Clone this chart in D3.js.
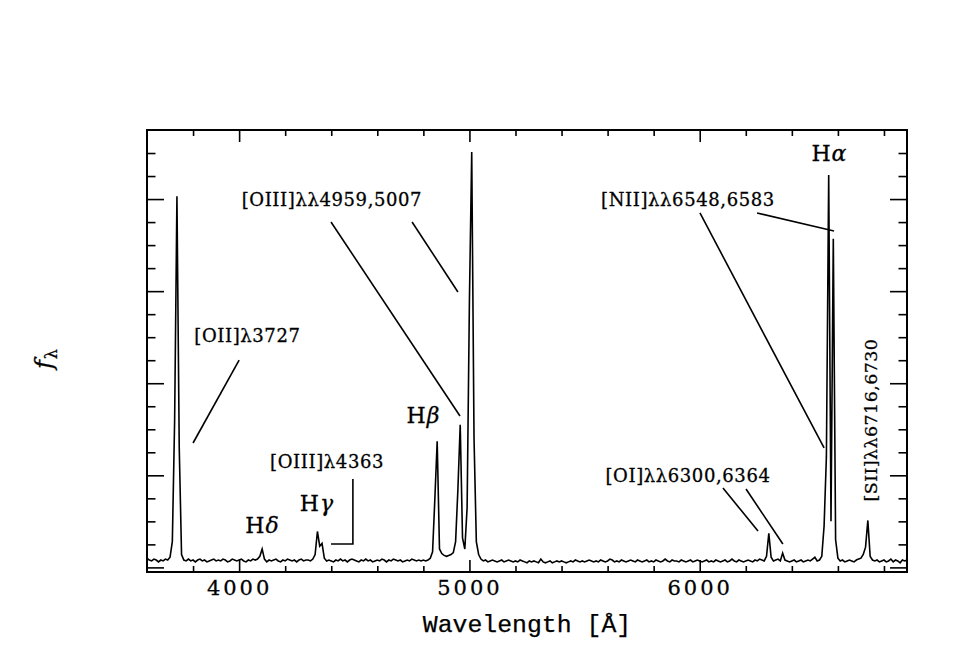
<!DOCTYPE html>
<html><head><meta charset="utf-8">
<script src="https://cdn.jsdelivr.net/npm/d3@7"></script>
<style>body{margin:0;background:#fff}</style></head>
<body><svg id="chart" width="975" height="650"></svg>
<script>
// ---- data ----
const waveStart = 3600, waveStep = 10;
const flux = [
  0.10,0.08,0.07,0.09,0.08,0.06,0.08,0.07,0.09,0.08, // 3600
  0.11,0.28,1.60,4.03,1.30,0.14,0.08,0.07,0.09,0.07, // 3700
  0.08,0.06,0.08,0.09,0.07,0.08,0.06,0.07,0.08,0.09, // 3800
  0.07,0.08,0.07,0.09,0.08,0.06,0.07,0.09,0.08,0.07, // 3900
  0.08,0.09,0.07,0.06,0.08,0.07,0.09,0.08,0.09,0.12, // 4000
  0.20,0.09,0.06,0.08,0.07,0.08,0.09,0.07,0.06,0.08, // 4100
  0.07,0.09,0.08,0.07,0.08,0.06,0.08,0.09,0.07,0.08, // 4200
  0.08,0.07,0.09,0.14,0.39,0.23,0.26,0.10,0.07,0.08, // 4300
  0.07,0.06,0.08,0.07,0.09,0.07,0.08,0.06,0.08,0.09, // 4400
  0.08,0.07,0.06,0.08,0.07,0.09,0.07,0.08,0.06,0.07, // 4500
  0.08,0.07,0.09,0.08,0.06,0.08,0.07,0.09,0.08,0.07, // 4600
  0.08,0.06,0.07,0.08,0.07,0.09,0.08,0.07,0.08,0.07, // 4700
  0.08,0.07,0.08,0.10,0.17,0.75,1.37,0.20,0.15,0.13, // 4800
  0.12,0.13,0.14,0.16,0.28,0.85,1.55,0.32,0.20,0.65, // 4900
  2.90,4.51,1.40,0.28,0.14,0.09,0.07,0.08,0.06,0.07, // 5000
  0.08,0.07,0.06,0.07,0.08,0.06,0.07,0.08,0.07,0.06, // 5100
  0.07,0.06,0.08,0.07,0.06,0.05,0.07,0.06,0.07,0.06, // 5200
  0.05,0.09,0.06,0.05,0.06,0.07,0.05,0.06,0.07,0.06, // 5300
  0.07,0.06,0.05,0.06,0.07,0.06,0.08,0.07,0.06,0.07, // 5400
  0.06,0.07,0.08,0.07,0.06,0.07,0.06,0.08,0.07,0.06, // 5500
  0.07,0.09,0.08,0.06,0.07,0.06,0.08,0.07,0.06,0.07, // 5600
  0.08,0.07,0.06,0.08,0.07,0.06,0.07,0.08,0.06,0.07, // 5700
  0.06,0.08,0.07,0.06,0.07,0.09,0.07,0.06,0.08,0.07, // 5800
  0.07,0.06,0.08,0.07,0.06,0.07,0.08,0.06,0.07,0.08, // 5900
  0.07,0.06,0.07,0.08,0.06,0.07,0.06,0.08,0.07,0.06, // 6000
  0.07,0.08,0.06,0.07,0.09,0.07,0.06,0.08,0.07,0.06, // 6100
  0.07,0.08,0.07,0.06,0.08,0.07,0.09,0.08,0.07,0.12, // 6200
  0.37,0.11,0.07,0.08,0.09,0.07,0.155,0.08,0.07,0.06, // 6300
  0.07,0.08,0.06,0.07,0.08,0.06,0.07,0.08,0.07,0.09, // 6400
  0.11,0.07,0.08,0.12,0.45,1.20,4.26,0.50,3.57,0.30, // 6500
  0.10,0.07,0.08,0.06,0.07,0.08,0.07,0.06,0.08,0.09, // 6600
  0.10,0.14,0.22,0.51,0.12,0.08,0.07,0.08,0.06,0.07, // 6700
  0.08,0.06,0.07,0.09,0.06,0.08,0.07,0.05,0.08,0.07, // 6800
  0.08                                                // 6900
];
const xMajorTicks = [4000, 5000, 6000];
const xTickLabels = ["4000", "5000", "6000"];
const xMinorTicks = [3800,4200,4400,4600,4800,5200,5400,5600,5800,6200,6400,6600,6800];
const yMajorTicks = [0, 1, 2, 3, 4];
const yMinorTicks = [0.25,0.5,0.75,1.25,1.5,1.75,2.25,2.5,2.75,3.25,3.5,3.75,4.25,4.5];
const xTitle = "Wavelength [Å]";

// annotation labels
const labelText  = ["[OIII]λλ4959,5007","[OII]λ3727","[OIII]λ4363","[NII]λλ6548,6583","[OI]λλ6300,6364"];
const labelWave  = [4403, 4036, 4382, 5949, 5949];
const labelFlux  = [3.925, 2.448, 1.079, 3.925, 0.927];
const hLabelGreek = ["δ","γ","β","α"];
const hLabelWave  = [4099, 4336, 4798, 6561];
const hLabelFlux  = [0.374, 0.612, 1.568, 4.413];
const sLabelText = "[SII]λλ6716,6730";
const sLabelWave = 6770, sLabelFlux = 1.60;
const leaders = [
  [[4399,3.751],[4959,1.644]],
  [[4751,3.751],[4950,2.991]],
  [[4000,2.252],[3800,1.351]],
  [[4494,0.960],[4494,0.254],[4399,0.254]],
  [[6001,3.849],[6540,1.297]],
  [[6249,3.849],[6583,3.653]],
  [[6101,0.862],[6253,0.395]],
  [[6201,0.851],[6361,0.254]]
];

// ---- drawing ----
const svg = d3.select("#chart");
const L = 147, R = 907, T = 130, B = 572;
const x = d3.scaleLinear([3600, 6900], [L, R]);
const y = d3.scaleLinear([-0.05, 4.75], [B, T]);
const spec = flux.map((f, i) => [waveStart + i * waveStep, f]);

svg.append("defs").append("clipPath").attr("id","clip")
  .append("rect").attr("x",L).attr("y",T).attr("width",R-L).attr("height",B-T);

svg.append("path").datum(spec)
  .attr("clip-path","url(#clip)")
  .attr("fill","none").attr("stroke","#000").attr("stroke-width",1.6)
  .attr("stroke-linejoin","miter")
  .attr("d", d3.line().x(d => x(d[0])).y(d => y(d[1])));

function styleAxis(g){
  g.select(".domain").remove();
  g.selectAll(".tick line").attr("stroke","#000").attr("stroke-width",1.6);
}
const tickFont = "'DejaVu Serif', serif";
// bottom
svg.append("g").attr("transform",`translate(0,${B})`)
  .call(d3.axisBottom(x).tickValues(xMinorTicks).tickSize(-6).tickFormat("")).call(styleAxis);
svg.append("g").attr("transform",`translate(0,${B})`)
  .call(d3.axisBottom(x).tickValues(xMajorTicks).tickSize(-12).tickPadding(8)
    .tickFormat((d,i) => xTickLabels[i]))
  .call(styleAxis)
  .call(g => g.selectAll("text").attr("font-family",tickFont).attr("font-size",21)
    .attr("letter-spacing","3px").attr("fill","#000").attr("stroke","#000").attr("stroke-width",0.3));
// top
svg.append("g").attr("transform",`translate(0,${T})`)
  .call(d3.axisTop(x).tickValues(xMinorTicks).tickSize(-6).tickFormat("")).call(styleAxis);
svg.append("g").attr("transform",`translate(0,${T})`)
  .call(d3.axisTop(x).tickValues(xMajorTicks).tickSize(-12).tickFormat("")).call(styleAxis);
// left / right
svg.append("g").attr("transform",`translate(${L},0)`)
  .call(d3.axisLeft(y).tickValues(yMinorTicks).tickSize(-8.5).tickFormat("")).call(styleAxis);
svg.append("g").attr("transform",`translate(${L},0)`)
  .call(d3.axisLeft(y).tickValues(yMajorTicks).tickSize(-17).tickFormat("")).call(styleAxis);
svg.append("g").attr("transform",`translate(${R},0)`)
  .call(d3.axisRight(y).tickValues(yMinorTicks).tickSize(-8.5).tickFormat("")).call(styleAxis);
svg.append("g").attr("transform",`translate(${R},0)`)
  .call(d3.axisRight(y).tickValues(yMajorTicks).tickSize(-17).tickFormat("")).call(styleAxis);

// frame
svg.append("rect").attr("x",L).attr("y",T).attr("width",R-L).attr("height",B-T)
  .attr("fill","none").attr("stroke","#000").attr("stroke-width",2);

// axis titles
svg.append("text").attr("x",(L+R)/2).attr("y",632).attr("text-anchor","middle")
  .attr("font-family","'Liberation Mono', monospace").attr("font-size",24.8)
  .attr("fill","#000").attr("stroke","#000").attr("stroke-width",0.25).text(xTitle);
const yt = svg.append("text").attr("transform",`translate(52,${(T+B)/2+8}) rotate(-90)`)
  .attr("text-anchor","middle").attr("font-family",tickFont).attr("font-size",24)
  .attr("fill","#000").attr("stroke","#000").attr("stroke-width",0.3);
yt.append("tspan").attr("font-style","italic").text("f");
yt.append("tspan").attr("font-size",16).attr("dy",5).attr("dx",1).text("λ");

// leaders
const lineGen = d3.line().x(d => x(d[0])).y(d => y(d[1]));
svg.append("g").selectAll("path").data(leaders).join("path")
  .attr("d", lineGen).attr("fill","none").attr("stroke","#000").attr("stroke-width",1.6);

// labels
svg.append("g").selectAll("text").data(labelText).join("text")
  .attr("x",(d,i) => x(labelWave[i])).attr("y",(d,i) => y(labelFlux[i]))
  .attr("text-anchor","middle").attr("font-family",tickFont).attr("font-size",18)
  .attr("letter-spacing","0.6px").attr("fill","#000")
  .attr("stroke","#000").attr("stroke-width",0.3).text(d => d);

const hl = svg.append("g").selectAll("text").data(hLabelGreek).join("text")
  .attr("x",(d,i) => x(hLabelWave[i])).attr("y",(d,i) => y(hLabelFlux[i]))
  .attr("text-anchor","middle").attr("font-family",tickFont).attr("font-size",22)
  .attr("fill","#000").attr("stroke","#000").attr("stroke-width",0.3);
hl.append("tspan").text("H");
hl.append("tspan").attr("dx",1).attr("font-style","italic").text(d => d);

svg.append("text")
  .attr("transform",`translate(${x(sLabelWave)},${y(sLabelFlux)}) rotate(-90)`)
  .attr("text-anchor","middle").attr("font-family",tickFont).attr("font-size",17.5)
  .attr("letter-spacing","0.4px").attr("fill","#000")
  .attr("stroke","#000").attr("stroke-width",0.3).text(sLabelText);
</script>
</body></html>
